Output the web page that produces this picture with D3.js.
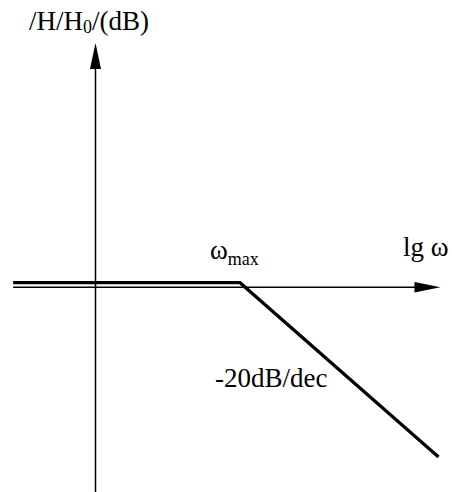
<!DOCTYPE html>
<html>
<head>
<meta charset="utf-8">
<script src="https://cdn.jsdelivr.net/npm/d3@7/dist/d3.min.js"></script>
<style>
  html, body { margin: 0; padding: 0; background: #fff; }
  svg { display: block; }
</style>
</head>
<body>
<svg id="chart" width="452" height="492"></svg>
<script>
// Bode magnitude asymptote: flat at 0 dB up to ωmax, then -20 dB/decade
const lgOmega = [-0.57, 1, 2.374];   // decades relative to the vertical axis
const gainDb  = [0, 0, -27.5];       // asymptotic gain, dB
const axisTitles = ["/H/H", "0", "/(dB)"];
const xAxisTitle = "lg ω";
const breakLabel = ["ω", "max"];
const slopeLabel = "-20dB/dec";

const SERIF = "'Liberation Serif', 'Times New Roman', Times, serif";

const svg = d3.select("#chart");
const W = 452, H = 492;

// one decade ≈ 144.5 px, one dB ≈ 6.34 px
const x = d3.scaleLinear().domain([0, 1]).range([95.5, 240]);
const y = d3.scaleLinear().domain([0, -27.5]).range([287.2, 461.5]);

const xMin = lgOmega[0];
const xAxisEnd = x.invert(440.5);
const yTop = y.invert(43);
const yBottom = y.invert(H + 2);

// horizontal axis (lg ω)
svg.append("line")
  .attr("x1", x(xMin)).attr("x2", x(xAxisEnd) - 20)
  .attr("y1", y(0)).attr("y2", y(0))
  .attr("stroke", "#000").attr("stroke-width", 1.4);
svg.append("path")
  .attr("d", d3.line()([[x(xAxisEnd), y(0)], [x(xAxisEnd) - 26, y(0) - 5.3], [x(xAxisEnd) - 26, y(0) + 5.3]]) + "Z")
  .attr("fill", "#000");

// vertical axis (gain)
svg.append("line")
  .attr("x1", x(0)).attr("x2", x(0))
  .attr("y1", y(yBottom)).attr("y2", y(yTop) + 20)
  .attr("stroke", "#000").attr("stroke-width", 1.5);
svg.append("path")
  .attr("d", d3.line()([[x(0), y(yTop)], [x(0) - 5.5, y(yTop) + 26], [x(0) + 5.5, y(yTop) + 26]]) + "Z")
  .attr("fill", "#000");

// asymptote, lifted slightly so it stays visible above the axis
const pts = lgOmega.map((v, i) => [x(v), y(gainDb[i])]);
svg.append("path")
  .attr("d", d3.line()(pts))
  .attr("transform", "translate(0,-4.5)")
  .attr("fill", "none")
  .attr("stroke", "#000")
  .attr("stroke-width", 3.2)
  .attr("stroke-linejoin", "miter");

// labels
function label(px, py) {
  return svg.append("text")
    .attr("x", px).attr("y", py)
    .attr("font-family", SERIF)
    .attr("font-size", 27)
    .attr("fill", "#000");
}

const t = label(29, 30);
t.append("tspan").text(axisTitles[0]);
t.append("tspan").attr("font-size", 18).attr("dy", 3).text(axisTitles[1]);
t.append("tspan").attr("dy", -3).text(axisTitles[2]);

label(403, 256).text(xAxisTitle);

const w = label(210, 259);
w.append("tspan").text(breakLabel[0]);
w.append("tspan").attr("font-size", 18).attr("dy", 6).text(breakLabel[1]);

label(215, 387).text(slopeLabel);
</script>
</body>
</html>
